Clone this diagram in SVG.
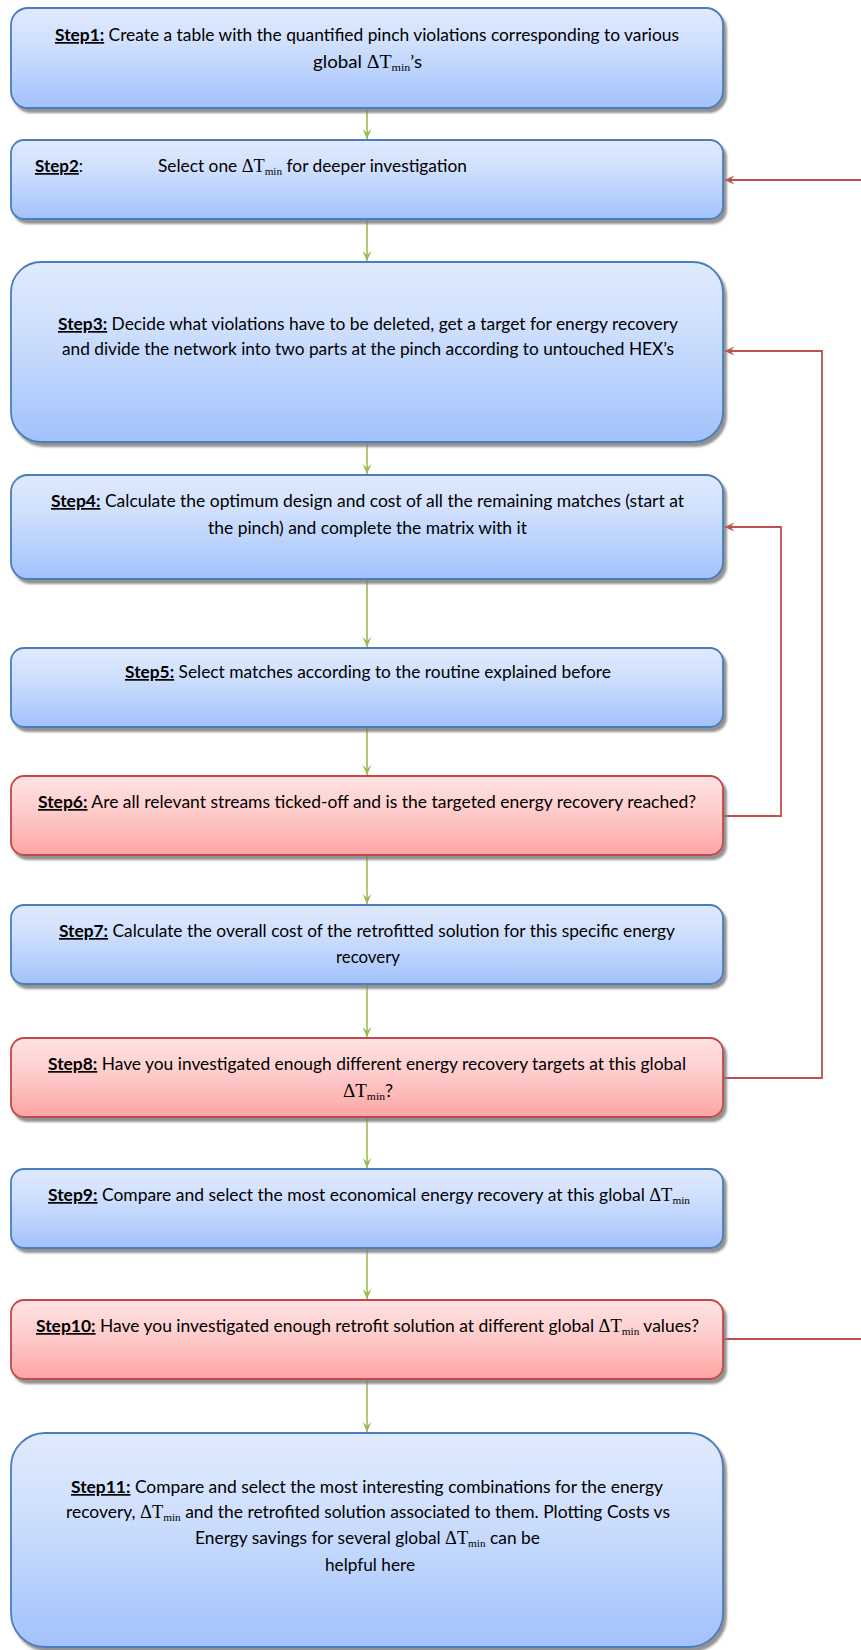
<svg xmlns="http://www.w3.org/2000/svg" width="861" height="1650" viewBox="0 0 861 1650">
  <style>
    .box { stroke-width: 1.8; filter: url(#shadow); }
    .blue { fill: url(#gBlue); stroke: #4a7ebb; }
    .red { fill: url(#gRed); stroke: #be4b48; }
    .t { font-family: Lato, "Open Sans", "Liberation Sans", sans-serif; font-size: 17px; fill: #000; }
    .lbl { font-weight: bold; text-decoration: underline; }
    .g { font-family: "Liberation Serif", "DejaVu Serif", serif; font-size: 18px; }
    .s { font-family: "Liberation Serif", "DejaVu Serif", serif; font-size: 11px; }
    .flow { fill: none; stroke: #9bbb59; stroke-width: 1.6; marker-end: url(#arrGreen); }
    .loop { fill: none; stroke: #c0504d; stroke-width: 1.8; }
    .loopA { marker-end: url(#arrRed); }
  </style>
  <defs>
    <linearGradient id="gBlue" x1="0" y1="0" x2="0" y2="1">
      <stop offset="0" stop-color="#e0eafd"/>
      <stop offset="0.35" stop-color="#d0e0fd"/>
      <stop offset="1" stop-color="#a2c2fb"/>
    </linearGradient>
    <linearGradient id="gRed" x1="0" y1="0" x2="0" y2="1">
      <stop offset="0" stop-color="#ffe2e2"/>
      <stop offset="0.35" stop-color="#fed2d2"/>
      <stop offset="1" stop-color="#fda5a4"/>
    </linearGradient>
    <filter id="shadow" x="-5%" y="-10%" width="115%" height="130%">
      <feDropShadow dx="3" dy="4" stdDeviation="1" flood-color="#7f7f7f" flood-opacity="0.85"/>
    </filter>
    <marker id="arrGreen" viewBox="0 0 10 10" refX="10" refY="5" markerWidth="10" markerHeight="10" markerUnits="userSpaceOnUse" orient="auto">
      <path d="M0,0.5 L10,5 L0,9.5 L4,5 Z" fill="#9bbb59"/>
    </marker>
    <marker id="arrRed" viewBox="0 0 10 10" refX="10" refY="5" markerWidth="10" markerHeight="11" markerUnits="userSpaceOnUse" orient="auto">
      <path d="M0,0.5 L10,5 L0,9.5 L4,5 Z" fill="#c0504d"/>
    </marker>
  </defs>

  <rect width="861" height="1650" fill="#ffffff"/>

  <!-- connectors -->
  <g id="connectors">
    <path class="flow" d="M367,108 V139"/>
    <path class="flow" d="M367,219 V261"/>
    <path class="flow" d="M367,442 V474"/>
    <path class="flow" d="M367,579 V647"/>
    <path class="flow" d="M367,727 V775"/>
    <path class="flow" d="M367,855 V904"/>
    <path class="flow" d="M367,984 V1037"/>
    <path class="flow" d="M367,1117 V1168"/>
    <path class="flow" d="M367,1248 V1299"/>
    <path class="flow" d="M367,1379 V1432"/>
    <!-- feedback loops -->
    <path class="loop loopA" d="M861,180 H724.5"/>
    <path class="loop loopA" d="M723,816 H781 V527 H724.5"/>
    <path class="loop loopA" d="M723,1078 H822 V351 H724.5"/>
    <path class="loop" d="M723,1339 H861"/>
  </g>

  <g id="step1">
    <rect class="box blue" x="11" y="8" width="712" height="100" rx="17"/>
    <text class="t" x="55" y="41" textLength="624" lengthAdjust="spacingAndGlyphs"><tspan class="lbl">Step1:</tspan> Create a table with the quantified pinch violations corresponding to various</text>
    <text class="t" x="313" y="68" textLength="109" lengthAdjust="spacingAndGlyphs">global  <tspan class="g">ΔT</tspan><tspan class="s" dy="3">min</tspan><tspan dy="-3">’s</tspan></text>
  </g>

  <g id="step2">
    <rect class="box blue" x="11" y="140" width="712" height="79" rx="13"/>
    <text class="t" x="35" y="172"><tspan class="lbl">Step2</tspan>:</text>
    <text class="t" x="158" y="172" textLength="309" lengthAdjust="spacingAndGlyphs">Select one <tspan class="g">ΔT</tspan><tspan class="s" dy="3">min</tspan><tspan dy="-3"> for deeper investigation</tspan></text>
  </g>

  <g id="step3">
    <rect class="box blue" x="11" y="262" width="712" height="180" rx="30"/>
    <text class="t" x="58" y="330" textLength="620" lengthAdjust="spacingAndGlyphs"><tspan class="lbl">Step3:</tspan> Decide what violations have to be deleted, get a target for energy recovery</text>
    <text class="t" x="62" y="355" textLength="612" lengthAdjust="spacingAndGlyphs">and divide the network into two parts at the pinch according to untouched HEX’s</text>
  </g>

  <g id="step4">
    <rect class="box blue" x="11" y="475" width="712" height="104" rx="17"/>
    <text class="t" x="51" y="507" textLength="633" lengthAdjust="spacingAndGlyphs"><tspan class="lbl">Step4:</tspan> Calculate the optimum design and cost of all the remaining matches (start at</text>
    <text class="t" x="208" y="534" textLength="319" lengthAdjust="spacingAndGlyphs">the pinch) and complete the matrix with it</text>
  </g>

  <g id="step5">
    <rect class="box blue" x="11" y="648" width="712" height="79" rx="13"/>
    <text class="t" x="125" y="678" textLength="486" lengthAdjust="spacingAndGlyphs"><tspan class="lbl">Step5:</tspan> Select matches according to the routine explained before</text>
  </g>

  <g id="step6">
    <rect class="box red" x="11" y="776" width="712" height="79" rx="13"/>
    <text class="t" x="38" y="808" textLength="658" lengthAdjust="spacingAndGlyphs"><tspan class="lbl">Step6:</tspan> Are all relevant streams ticked-off and is the targeted energy recovery reached?</text>
  </g>

  <g id="step7">
    <rect class="box blue" x="11" y="905" width="712" height="79" rx="13"/>
    <text class="t" x="59" y="937" textLength="616" lengthAdjust="spacingAndGlyphs"><tspan class="lbl">Step7:</tspan> Calculate the overall cost of the retrofitted solution for this specific energy</text>
    <text class="t" x="336" y="963" textLength="64" lengthAdjust="spacingAndGlyphs">recovery</text>
  </g>

  <g id="step8">
    <rect class="box red" x="11" y="1038" width="712" height="79" rx="13"/>
    <text class="t" x="48" y="1070" textLength="638" lengthAdjust="spacingAndGlyphs"><tspan class="lbl">Step8:</tspan> Have you investigated enough different energy recovery targets at this global</text>
    <text class="t" x="343" y="1097" textLength="50" lengthAdjust="spacingAndGlyphs"><tspan class="g">ΔT</tspan><tspan class="s" dy="3">min</tspan><tspan dy="-3">?</tspan></text>
  </g>

  <g id="step9">
    <rect class="box blue" x="11" y="1169" width="712" height="79" rx="13"/>
    <text class="t" x="48" y="1201" textLength="642" lengthAdjust="spacingAndGlyphs"><tspan class="lbl">Step9:</tspan> Compare and select the most economical energy recovery at this global <tspan class="g">ΔT</tspan><tspan class="s" dy="3">min</tspan></text>
  </g>

  <g id="step10">
    <rect class="box red" x="11" y="1300" width="712" height="79" rx="13"/>
    <text class="t" x="36" y="1332" textLength="663" lengthAdjust="spacingAndGlyphs"><tspan class="lbl">Step10:</tspan> Have you investigated enough retrofit solution at different global <tspan class="g">ΔT</tspan><tspan class="s" dy="3">min</tspan><tspan dy="-3"> values?</tspan></text>
  </g>

  <g id="step11">
    <rect class="box blue" x="11" y="1433" width="712" height="214" rx="34"/>
    <text class="t" x="71" y="1493" textLength="592" lengthAdjust="spacingAndGlyphs"><tspan class="lbl">Step11:</tspan> Compare and select the most interesting combinations for the energy</text>
    <text class="t" x="66" y="1518" textLength="604" lengthAdjust="spacingAndGlyphs">recovery, <tspan class="g">ΔT</tspan><tspan class="s" dy="3">min</tspan><tspan dy="-3"> and the retrofited solution associated to them. Plotting Costs vs</tspan></text>
    <text class="t" x="195" y="1544" textLength="345" lengthAdjust="spacingAndGlyphs">Energy savings for several global <tspan class="g">ΔT</tspan><tspan class="s" dy="3">min</tspan><tspan dy="-3"> can be</tspan></text>
    <text class="t" x="325" y="1571" textLength="90" lengthAdjust="spacingAndGlyphs">helpful here</text>
  </g>
</svg>
